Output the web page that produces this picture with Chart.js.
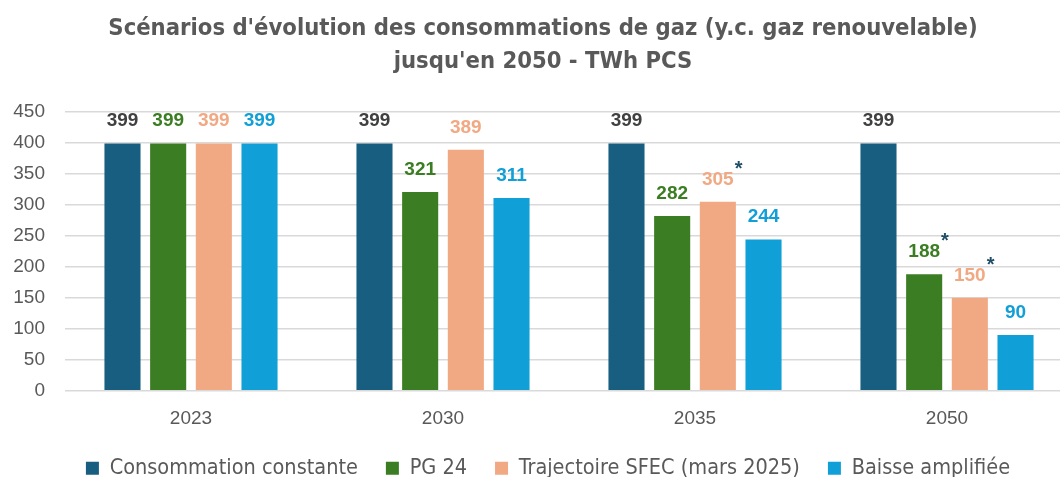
<!DOCTYPE html>
<html>
<head>
<meta charset="utf-8">
<script src="https://cdn.jsdelivr.net/npm/chart.js@4/dist/chart.umd.min.js"></script>
<style>
  html, body { margin: 0; padding: 0; background: #fff; overflow: hidden; }
  #wrap { width: 1073px; height: 477px; }
</style>
</head>
<body>
<div id="wrap"><canvas id="gazChart"></canvas></div>
<script>
const years = ['2023', '2030', '2035', '2050'];
const seriesNames = ['Consommation constante', 'PG 24', 'Trajectoire SFEC (mars 2025)', 'Baisse amplifiée'];
const constante = [399, 399, 399, 399];
const pg24 = [399, 321, 282, 188];
const sfec = [399, 389, 305, 150];
const baisse = [399, 311, 244, 90];
// which labels carry an asterisk
const starPg24 = [false, false, false, true];
const starSfec = [false, false, true, true];
const yTicks = [0, 50, 100, 150, 200, 250, 300, 350, 400, 450];

const barColors = ['#185e80', '#3b7d23', '#f1a983', '#119fd7'];
const labelColors = ['#404040', '#3b7d23', '#f1a983', '#119fd7'];
const narrow = '"Liberation Sans Narrow", "DejaVu Sans Condensed", "Liberation Sans", sans-serif';
const plain = '"Liberation Sans", Arial, sans-serif';

// draws the value labels above each bar
const valueLabels = {
    id: 'valueLabels',
    afterDatasetsDraw(chart) {
        const ctx = chart.ctx;
        const stars = [null, starPg24, starSfec, null];
        ctx.save();
        ctx.font = 'bold 19px ' + plain;
        ctx.textAlign = 'center';
        ctx.textBaseline = 'middle';
        chart.data.datasets.forEach((ds, i) => {
            chart.getDatasetMeta(i).data.forEach((bar, j) => {
                const txt = String(ds.data[j]);
                const y = bar.y - 22.5;
                ctx.fillStyle = labelColors[i];
                ctx.fillText(txt, bar.x, y);
                if (stars[i] && stars[i][j]) {
                    const w = ctx.measureText(txt).width;
                    ctx.save();
                    ctx.fillStyle = '#1f4e68';
                    ctx.font = 'bold 20px ' + plain;
                    ctx.textAlign = 'left';
                    ctx.fillText('*', bar.x + w / 2 + 1, y - 10);
                    ctx.restore();
                }
            });
        });
        ctx.restore();
    }
};

// nudge the legend a bit right and up, like the original
const legendShift = {
    id: 'legendShift',
    afterLayout(chart) {
        const lg = chart.legend;
        if (!lg) return;
        lg.left += 5; lg.right += 5;
        lg.top -= 10; lg.bottom -= 10;
    }
};

new Chart(document.getElementById('gazChart'), {
    type: 'bar',
    data: {
        labels: years,
        datasets: [constante, pg24, sfec, baisse].map((vals, i) => ({
            label: seriesNames[i],
            data: vals,
            backgroundColor: barColors[i],
            categoryPercentage: 0.725,
            barPercentage: 0.79
        }))
    },
    options: {
        responsive: true,
        maintainAspectRatio: false,
        animation: false,
        layout: { padding: { left: 13, right: 0, top: 8, bottom: -22 } },
        plugins: {
            title: {
                display: true,
                text: ["Scénarios d'évolution des consommations de gaz (y.c. gaz renouvelable)", "jusqu'en 2050 - TWh PCS"],
                color: '#595959',
                font: { family: narrow, size: 23.6, weight: 'bold', lineHeight: 1.42 },
                padding: { top: 4, bottom: 33 }
            },
            legend: {
                position: 'bottom',
                labels: {
                    color: '#595959',
                    font: { family: narrow, size: 21.5 },
                    boxWidth: 13,
                    boxHeight: 13,
                    padding: 28
                }
            },
            tooltip: { enabled: false }
        },
        scales: {
            x: {
                grid: { display: false },
                border: { display: false },
                ticks: { color: '#595959', font: { family: plain, size: 19 }, padding: 9 }
            },
            y: {
                min: 0,
                max: 450,
                afterBuildTicks: (axis) => { axis.ticks = yTicks.map(v => ({ value: v })); },
                afterFit: (axis) => { axis.width = 52; },
                grid: { color: '#d9d9d9', lineWidth: 1.5, drawTicks: false },
                border: { display: false },
                ticks: { color: '#595959', font: { family: plain, size: 19 }, padding: 20 }
            }
        }
    },
    plugins: [valueLabels, legendShift]
});
</script>
</body>
</html>
